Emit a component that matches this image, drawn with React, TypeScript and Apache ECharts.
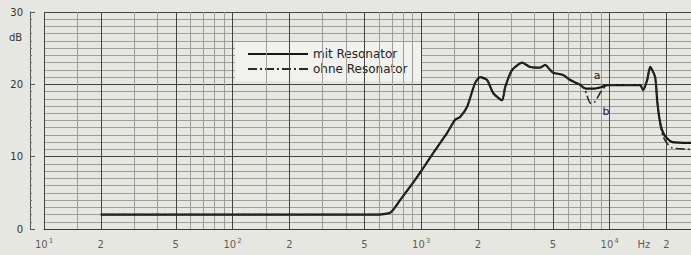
import React, { useEffect, useRef } from "react";
import * as echarts from "echarts";

// Frequency response data (Hz, dB)
const mitFreq = [20, 100, 300, 600, 690, 774, 907, 1025, 1187, 1374, 1515, 1610, 1754, 1934, 2056, 2239, 2410, 2690, 2790, 3039, 3434, 3786, 4279, 4549, 4834, 5015, 5667, 6173, 6900, 7500, 8200, 9000, 9700, 10400, 12000, 14500, 15060, 15810, 16400, 17430, 17900, 18500, 19200, 20200, 21500, 27000];
const mitDb = [2.0, 2.0, 2.0, 2.0, 2.3, 4.0, 6.4, 8.4, 10.9, 13.3, 15.1, 15.5, 16.9, 20.2, 21.0, 20.6, 18.8, 17.8, 19.6, 22.0, 23.0, 22.4, 22.3, 22.7, 22.0, 21.6, 21.3, 20.6, 20.0, 19.4, 19.4, 19.6, 19.9, 19.9, 19.9, 19.9, 19.2, 20.6, 22.4, 21.0, 17.5, 14.8, 13.3, 12.5, 12.0, 11.9];

const ohneFreq = [20, 100, 300, 600, 690, 774, 907, 1025, 1187, 1374, 1515, 1610, 1754, 1934, 2056, 2239, 2410, 2690, 2790, 3039, 3434, 3786, 4279, 4549, 4834, 5015, 5667, 6173, 6900, 7400, 7900, 8300, 9000, 9700, 10400, 12000, 14500, 15060, 15810, 16400, 17430, 17900, 18500, 19200, 20200, 21500, 27000];
const ohneDb = [2.0, 2.0, 2.0, 2.0, 2.3, 4.0, 6.4, 8.4, 10.9, 13.3, 15.1, 15.5, 16.9, 20.2, 21.0, 20.6, 18.8, 17.8, 19.6, 22.0, 23.0, 22.4, 22.3, 22.7, 22.0, 21.6, 21.3, 20.6, 20.0, 19.2, 17.4, 17.5, 19.0, 19.9, 19.9, 19.9, 19.9, 19.2, 20.6, 22.4, 21.0, 17.5, 14.5, 12.8, 11.8, 11.2, 11.0];

const seriesNames = ["mit Resonator", "ohne Resonator"];

// x tick labels (position in Hz, text)
const xTickFreq = [10, 20, 50, 100, 200, 500, 1000, 2000, 5000, 10000, 15200, 20000];
const xTickText = ["10{s|1}", "2", "5", "10{s|2}", "2", "5", "10{s|3}", "2", "5", "10{s|4}", "Hz", "2"];

// grid lines of the log paper
const heavyGridFreq = [10, 20, 50, 100, 200, 500, 1000, 2000, 5000, 10000, 20000];
const lightGridFreq = [15, 30, 40, 60, 70, 80, 90, 150, 300, 400, 600, 700, 800, 900, 1500, 3000, 4000, 6000, 7000, 8000, 9000, 15000];

// curve annotations
const noteFreq = [8590, 9570];
const noteDb = [21.2, 16.3];
const noteText = ["a", "b"];

export default function App() {
  const ref = useRef<HTMLDivElement>(null);
  useEffect(() => {
    if (!ref.current) return;
    const chart = echarts.init(ref.current, null, { renderer: "svg" });
    const font = "DejaVu Sans";
    const gridLines = [
      ...heavyGridFreq.map((f) => ({ xAxis: f, lineStyle: { color: "#444442", width: 1, type: "solid" } })),
      ...lightGridFreq.map((f) => ({ xAxis: f, lineStyle: { color: "#9c9c98", width: 1, type: "solid" } })),
    ];
    chart.setOption({
      animation: false,
      backgroundColor: "#e7e7e2",
      grid: { left: 44, top: 12, right: 0, bottom: 26 },
      legend: {
        data: seriesNames,
        orient: "vertical",
        left: 235,
        top: 42,
        padding: [6, 14, 6, 12],
        itemWidth: 60,
        itemHeight: 14,
        itemGap: 3,
        backgroundColor: "#f1f1ee",
        itemStyle: { opacity: 0 },
        textStyle: { fontFamily: font, fontSize: 12, color: "#222" },
      },
      xAxis: {
        type: "log",
        logBase: 10,
        min: 10,
        max: 27000,
        axisLine: { show: true, lineStyle: { color: "#3a3a38", width: 1 } },
        axisTick: { show: false },
        axisLabel: { show: false },
        splitLine: { show: false },
      },
      yAxis: {
        type: "value",
        min: 0,
        max: 30,
        interval: 10,
        offset: 14,
        axisLine: { show: true, lineStyle: { color: "#555", width: 1 } },
        axisTick: { show: true, inside: true, length: 5, lineStyle: { color: "#555" } },
        minorTick: { show: true, splitNumber: 10, length: 2, lineStyle: { color: "#777" } },
        axisLabel: { fontFamily: font, fontSize: 10, color: "#333", margin: 7 },
        splitLine: { show: true, lineStyle: { color: "#444442", width: 1 } },
        minorSplitLine: { show: true, lineStyle: { color: "#9c9c98", width: 1 } },
      },
      graphic: [
        { type: "text", left: 9, top: 32, style: { text: "dB", fontFamily: font, fontSize: 10, fill: "#333" } },
      ],
      series: [
        {
          type: "line",
          name: "__grid",
          data: [],
          silent: true,
          markLine: {
            silent: true,
            symbol: ["none", "none"],
            label: { show: false },
            animation: false,
            data: gridLines,
          },
        },
        {
          type: "line",
          name: seriesNames[0],
          data: mitFreq.map((f, i) => [f, mitDb[i]]),
          symbol: "none",
          smooth: 0.2,
          lineStyle: { color: "#151515", width: 2.2 },
          itemStyle: { color: "#151515" },
          z: 5,
        },
        {
          type: "line",
          name: seriesNames[1],
          data: ohneFreq.map((f, i) => [f, ohneDb[i]]),
          symbol: "none",
          smooth: 0.2,
          lineStyle: { color: "#2a2a2a", width: 1.6, type: [9, 3, 2, 3] },
          itemStyle: { color: "#2a2a2a" },
          z: 6,
        },
        {
          type: "scatter",
          name: "__xlabels",
          data: xTickFreq.map((f, i) => [f, 0, xTickText[i]]),
          symbolSize: 1,
          clip: false,
          silent: true,
          itemStyle: { color: "transparent" },
          label: {
            show: true,
            position: "bottom",
            distance: 8,
            formatter: (p: any) => p.data[2],
            rich: {
              s: { fontFamily: font, fontSize: 7, color: "#333", verticalAlign: "top", lineHeight: 14, padding: [0, 0, 0, 1] },
            },
            fontFamily: font,
            fontSize: 10,
            color: "#333",
            lineHeight: 14,
          },
        },
        {
          type: "scatter",
          name: "__notes",
          data: noteFreq.map((f, i) => [f, noteDb[i], noteText[i]]),
          symbolSize: 1,
          silent: true,
          itemStyle: { color: "#222", opacity: 0 },
          label: {
            show: true,
            position: "top",
            distance: -6,
            formatter: (p: any) => p.data[2],
            fontFamily: font,
            fontSize: 11,
            color: "#222",
            opacity: 1,
          },
        },
      ],
    });
    return () => chart.dispose();
  }, []);
  return <div ref={ref} style={{ position: "absolute", left: 0, top: 0, width: 691, height: 255 }} />;
}
